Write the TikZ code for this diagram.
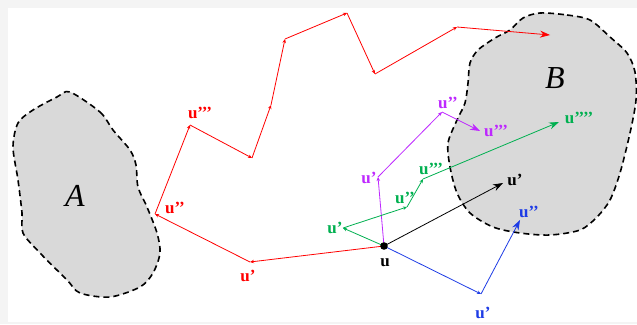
\documentclass[tikz,border=0pt]{standalone}
\usepackage{fontspec}
\setmainfont{Liberation Serif}
\usetikzlibrary{arrows.meta}
\definecolor{pagegray}{RGB}{244,244,244}
\definecolor{regiongray}{RGB}{217,217,217}
\definecolor{pathred}{RGB}{255,0,0}
\definecolor{pathpurple}{RGB}{190,40,255}
\definecolor{pathgreen}{RGB}{0,176,80}
\definecolor{pathblue}{RGB}{30,60,230}
\tikzset{
  region/.style={draw=black,fill=regiongray,line width=1.6pt,dash pattern=on 6pt off 4pt},
  regionlabel/.style={font=\fontsize{32}{32}\selectfont\itshape},
  lbl/.style={font=\fontsize{17}{17}\selectfont\bfseries,inner sep=0pt},
  hop/.style={-{Stealth[length=4pt,width=3.5pt]},line width=0.8pt},
  final/.style={-{Stealth[length=10pt,width=7pt]},line width=0.8pt}
}

\begin{document}
\begin{tikzpicture}[x=1pt,y=-1pt]
  % page
  \fill[pagegray] (0,0) rectangle (637,324);
  \fill[white] (8,8) rectangle (637,322);
  \useasboundingbox (0,0) rectangle (637,324);

  % region A
  \draw[region] plot[smooth cycle,tension=0.5] coordinates {
    (70,92) (100,112) (113,130) (130,150) (136,165) (138,187) (147,207)
    (157,233) (160,253) (153,273) (140,287) (110,297) (80,293) (67,280)
    (40,253) (23,233) (22,213) (18,180) (13,147) (18,123) (33,110) (57,97)};
  \node[regionlabel] (A) at (75,196) {A};

  % region B
  \draw[region] plot[smooth cycle,tension=0.5] coordinates {
    (540,13) (567,15) (590,20) (610,37) (627,53) (635,72) (636,100)
    (630,133) (620,173) (610,200) (597,217) (580,230) (550,235) (520,233)
    (493,227) (470,213) (457,193) (450,167) (448,143) (457,120) (465,103)
    (468,83) (470,63) (478,50) (495,38) (510,30) (523,18)};
  \node[regionlabel] (B) at (555,78) {B};

  \coordinate (u) at (384,246);

  % red path
  \coordinate (r1) at (250,262);
  \coordinate (r2) at (155,214);
  \coordinate (r3) at (190,125);
  \coordinate (r4) at (252,158);
  \coordinate (r5) at (271,105);
  \coordinate (r6) at (285,39);
  \coordinate (r7) at (347,13);
  \coordinate (r8) at (375,74);
  \coordinate (r9) at (457,27);
  \coordinate (r10) at (550,35);
  \draw[pathred,hop] (u) -- (r1);
  \draw[pathred,hop] (r1) -- (r2);
  \draw[pathred,hop] (r2) -- (r3);
  \draw[pathred,hop] (r3) -- (r4);
  \draw[pathred,hop] (r4) -- (r5);
  \draw[pathred,hop] (r5) -- (r6);
  \draw[pathred,hop] (r6) -- (r7);
  \draw[pathred,hop] (r7) -- (r8);
  \draw[pathred,hop] (r8) -- (r9);
  \draw[pathred,final] (r9) -- (r10);
  \node[lbl,pathred] (r1l) at (248,276) {u’};
  \node[lbl,pathred] (r2l) at (175,208) {u’’};
  \node[lbl,pathred] (r3l) at (200,113) {u’’’};

  % purple path
  \coordinate (p1) at (378,177);
  \coordinate (p2) at (442,112);
  \coordinate (p3) at (480,131);
  \draw[pathpurple,hop] (u) -- (p1);
  \draw[pathpurple,hop] (p1) -- (p2);
  \draw[pathpurple,final] (p2) -- (p3);
  \node[lbl,pathpurple] (p1l) at (369,178) {u’};
  \node[lbl,pathpurple] (p2l) at (448,103) {u’’};
  \node[lbl,pathpurple] (p3l) at (496,131) {u’’’};

  % green path
  \coordinate (g1) at (343,228);
  \coordinate (g2) at (407,207);
  \coordinate (g3) at (423,179);
  \coordinate (g4) at (559,122);
  \draw[pathgreen,hop] (u) -- (g1);
  \draw[pathgreen,hop] (g1) -- (g2);
  \draw[pathgreen,hop] (g2) -- (g3);
  \draw[pathgreen,final] (g3) -- (g4);
  \node[lbl,pathgreen] (g1l) at (335,228) {u’};
  \node[lbl,pathgreen] (g2l) at (405,198) {u’’};
  \node[lbl,pathgreen] (g3l) at (431,169) {u’’’};
  \node[lbl,pathgreen] (g4l) at (579,118) {u’’’’};

  % black path
  \coordinate (k1) at (503,183);
  \draw[black,final] (u) -- (k1);
  \node[lbl,black] (k1l) at (515,180) {u’};

  % blue path
  \coordinate (b1) at (481,294);
  \coordinate (b2) at (520,220);
  \draw[pathblue,hop] (u) -- (b1);
  \draw[pathblue,final] (b1) -- (b2);
  \node[lbl,pathblue] (b1l) at (483,313) {u’};
  \node[lbl,pathblue] (b2l) at (529,212) {u’’};

  % start point
  \fill (u) circle (3.8pt);
  \node[lbl,black] (ul) at (385,263) {u};
\end{tikzpicture}
\end{document}
